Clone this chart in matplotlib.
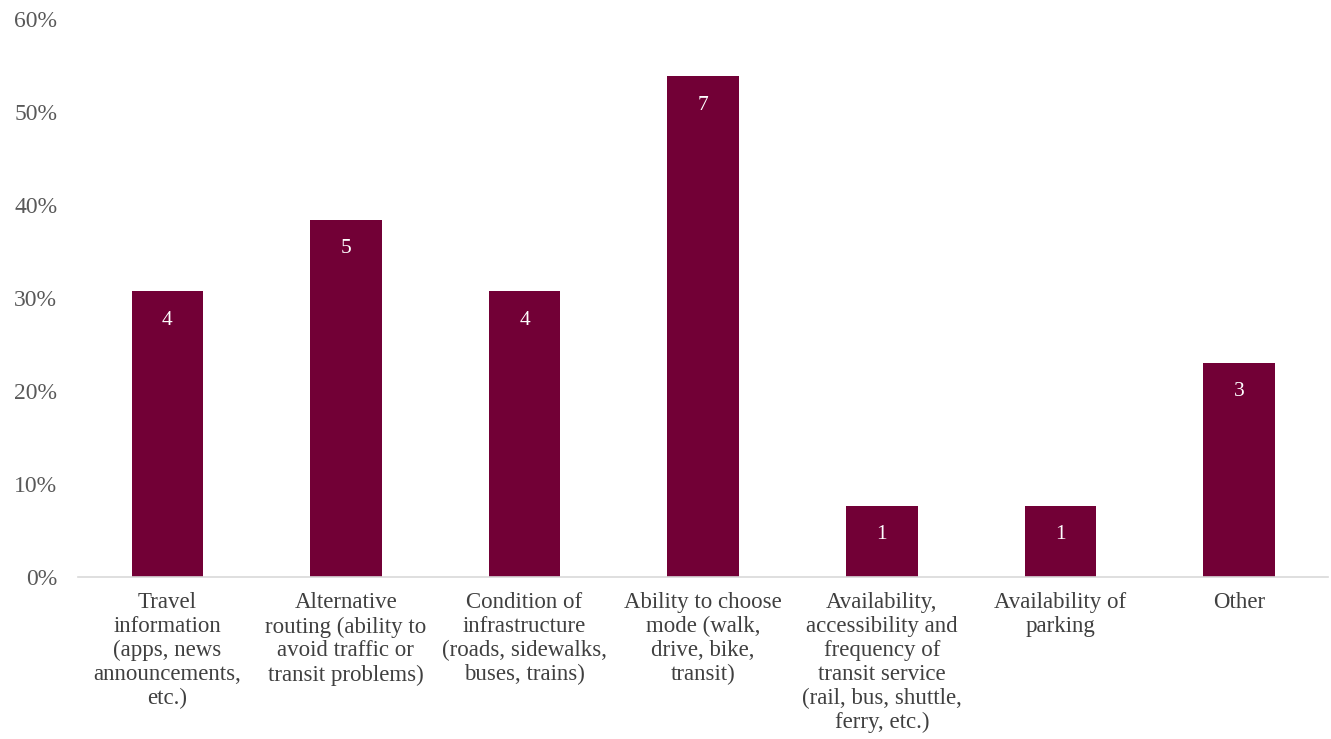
import numpy as np
import matplotlib.pyplot as plt

plt.rcParams['font.family'] = ['Liberation Serif', 'DejaVu Serif']

categories = [
    "Travel\ninformation\n(apps, news\nannouncements,\netc.)",
    "Alternative\nrouting (ability to\navoid traffic or\ntransit problems)",
    "Condition of\ninfrastructure\n(roads, sidewalks,\nbuses, trains)",
    "Ability to choose\nmode (walk,\ndrive, bike,\ntransit)",
    "Availability,\naccessibility and\nfrequency of\ntransit service\n(rail, bus, shuttle,\nferry, etc.)",
    "Availability of\nparking",
    "Other",
]
counts = [4, 5, 4, 7, 1, 1, 3]
total = 13
shares = [c / total for c in counts]

fig = plt.figure(figsize=(13.31, 7.39), dpi=100)
ax = fig.add_axes([0.0586, 0.219, 0.9394, 0.755])

x = np.arange(len(categories))
bars = ax.bar(x, shares, width=0.4, color='#720036')

for xi, s, c in zip(x, shares, counts):
    ax.text(xi, s - 0.021, str(c), ha='center', va='top', color='white', fontsize=15.5)

ax.set_xlim(-0.5, len(categories) - 0.5)
ax.set_ylim(0, 0.6)
ax.set_yticks(np.arange(0, 0.61, 0.1))
ax.set_yticklabels([f"{int(round(v * 100))}%" for v in np.arange(0, 0.61, 0.1)])
ax.set_xticks(x)
ax.set_xticklabels(categories, fontsize=16.5, color='#404040', linespacing=1.18)
ax.tick_params(axis='y', labelsize=17, labelcolor='#595959', length=0, pad=15)
ax.tick_params(axis='x', length=0, pad=11)

for side in ['top', 'right', 'left']:
    ax.spines[side].set_visible(False)
ax.spines['bottom'].set_color('#d9d9d9')
ax.spines['bottom'].set_linewidth(1.2)

fig.savefig('out.png', dpi=100)
